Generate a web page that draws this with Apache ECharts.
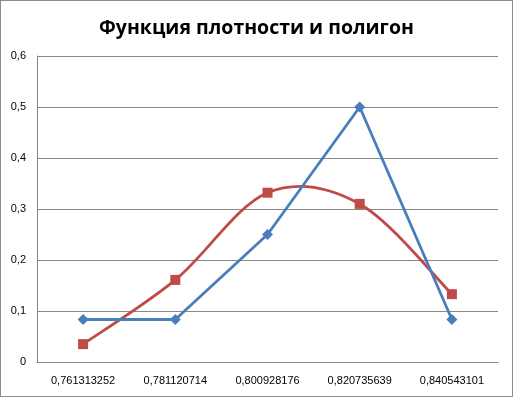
<!DOCTYPE html>
<html><head><meta charset="utf-8">
<script src="https://cdn.jsdelivr.net/npm/echarts@6/dist/echarts.min.js"></script>
<style>
html,body{margin:0;padding:0;background:#fff;}
#c{width:513px;height:397px;box-sizing:border-box;border:1px solid #8c8c8c;}
</style></head><body>
<div id="c"></div>
<script>
const categories = ['0,761313252','0,781120714','0,800928176','0,820735639','0,840543101'];
const polygonValues = [0.0833, 0.0833, 0.25, 0.5, 0.0833];
const densityValues = [0.035, 0.161, 0.332, 0.31, 0.133];
const yTicks = [0, 0.1, 0.2, 0.3, 0.4, 0.5, 0.6];

const RED = '#BE4B48', BLUE = '#4A7EBB';
const chart = echarts.init(document.getElementById('c'), null, {renderer:'canvas'});

// Excel-style (Catmull-Rom) smoothing drawn through the axis scales
function renderSmooth(params, api){
  const i = params.dataIndex, n = densityValues.length;
  if (i >= n-1) return null;
  const P = j => { j = Math.max(0, Math.min(n-1, j)); return api.coord([j, densityValues[j]]); };
  const p0 = P(i-1), p1 = P(i), p2 = P(i+1), p3 = P(i+2);
  return {
    type:'bezierCurve',
    shape:{x1:p1[0],y1:p1[1],x2:p2[0],y2:p2[1],
      cpx1:p1[0]+(p2[0]-p0[0])/6, cpy1:p1[1]+(p2[1]-p0[1])/6,
      cpx2:p2[0]-(p3[0]-p1[0])/6, cpy2:p2[1]-(p3[1]-p1[1])/6},
    style:{stroke:RED,lineWidth:2.8,fill:null}
  };
}

chart.setOption({
  animation:false,
  title:{text:'Функция плотности и полигон',left:'center',top:12,
    textStyle:{fontFamily:'Open Sans',fontSize:19.5,fontWeight:'bold',color:'#000'}},
  grid:{left:36,right:14,top:55,bottom:34},
  xAxis:{type:'category',data:categories,boundaryGap:true,
    axisLine:{lineStyle:{color:'#878787',width:1}},axisTick:{show:false},
    axisLabel:{fontFamily:'Liberation Sans',fontSize:11,color:'#000',margin:13}},
  yAxis:{type:'value',min:yTicks[0],max:yTicks[yTicks.length-1],interval:0.1,
    axisLine:{show:true,lineStyle:{color:'#878787',width:1}},axisTick:{show:false},
    splitLine:{lineStyle:{color:'#878787',width:1}},
    axisLabel:{fontFamily:'Liberation Sans',fontSize:11,color:'#000',margin:11,
      formatter:v=>v===0?'0':v.toFixed(1).replace('.',',')}},
  series:[
    {name:'Функция плотности (кривая)',type:'custom',renderItem:renderSmooth,
      data:densityValues.map((v,i)=>[i,v]),encode:{x:0,y:1},z:2},
    {name:'Полигон',type:'line',data:polygonValues,symbol:'diamond',symbolSize:11,
      lineStyle:{color:BLUE,width:2.8},itemStyle:{color:BLUE},z:3},
    {name:'Функция плотности',type:'line',data:densityValues,symbol:'rect',symbolSize:10,
      lineStyle:{opacity:0},itemStyle:{color:RED},z:4}
  ]
});
</script></body></html>
